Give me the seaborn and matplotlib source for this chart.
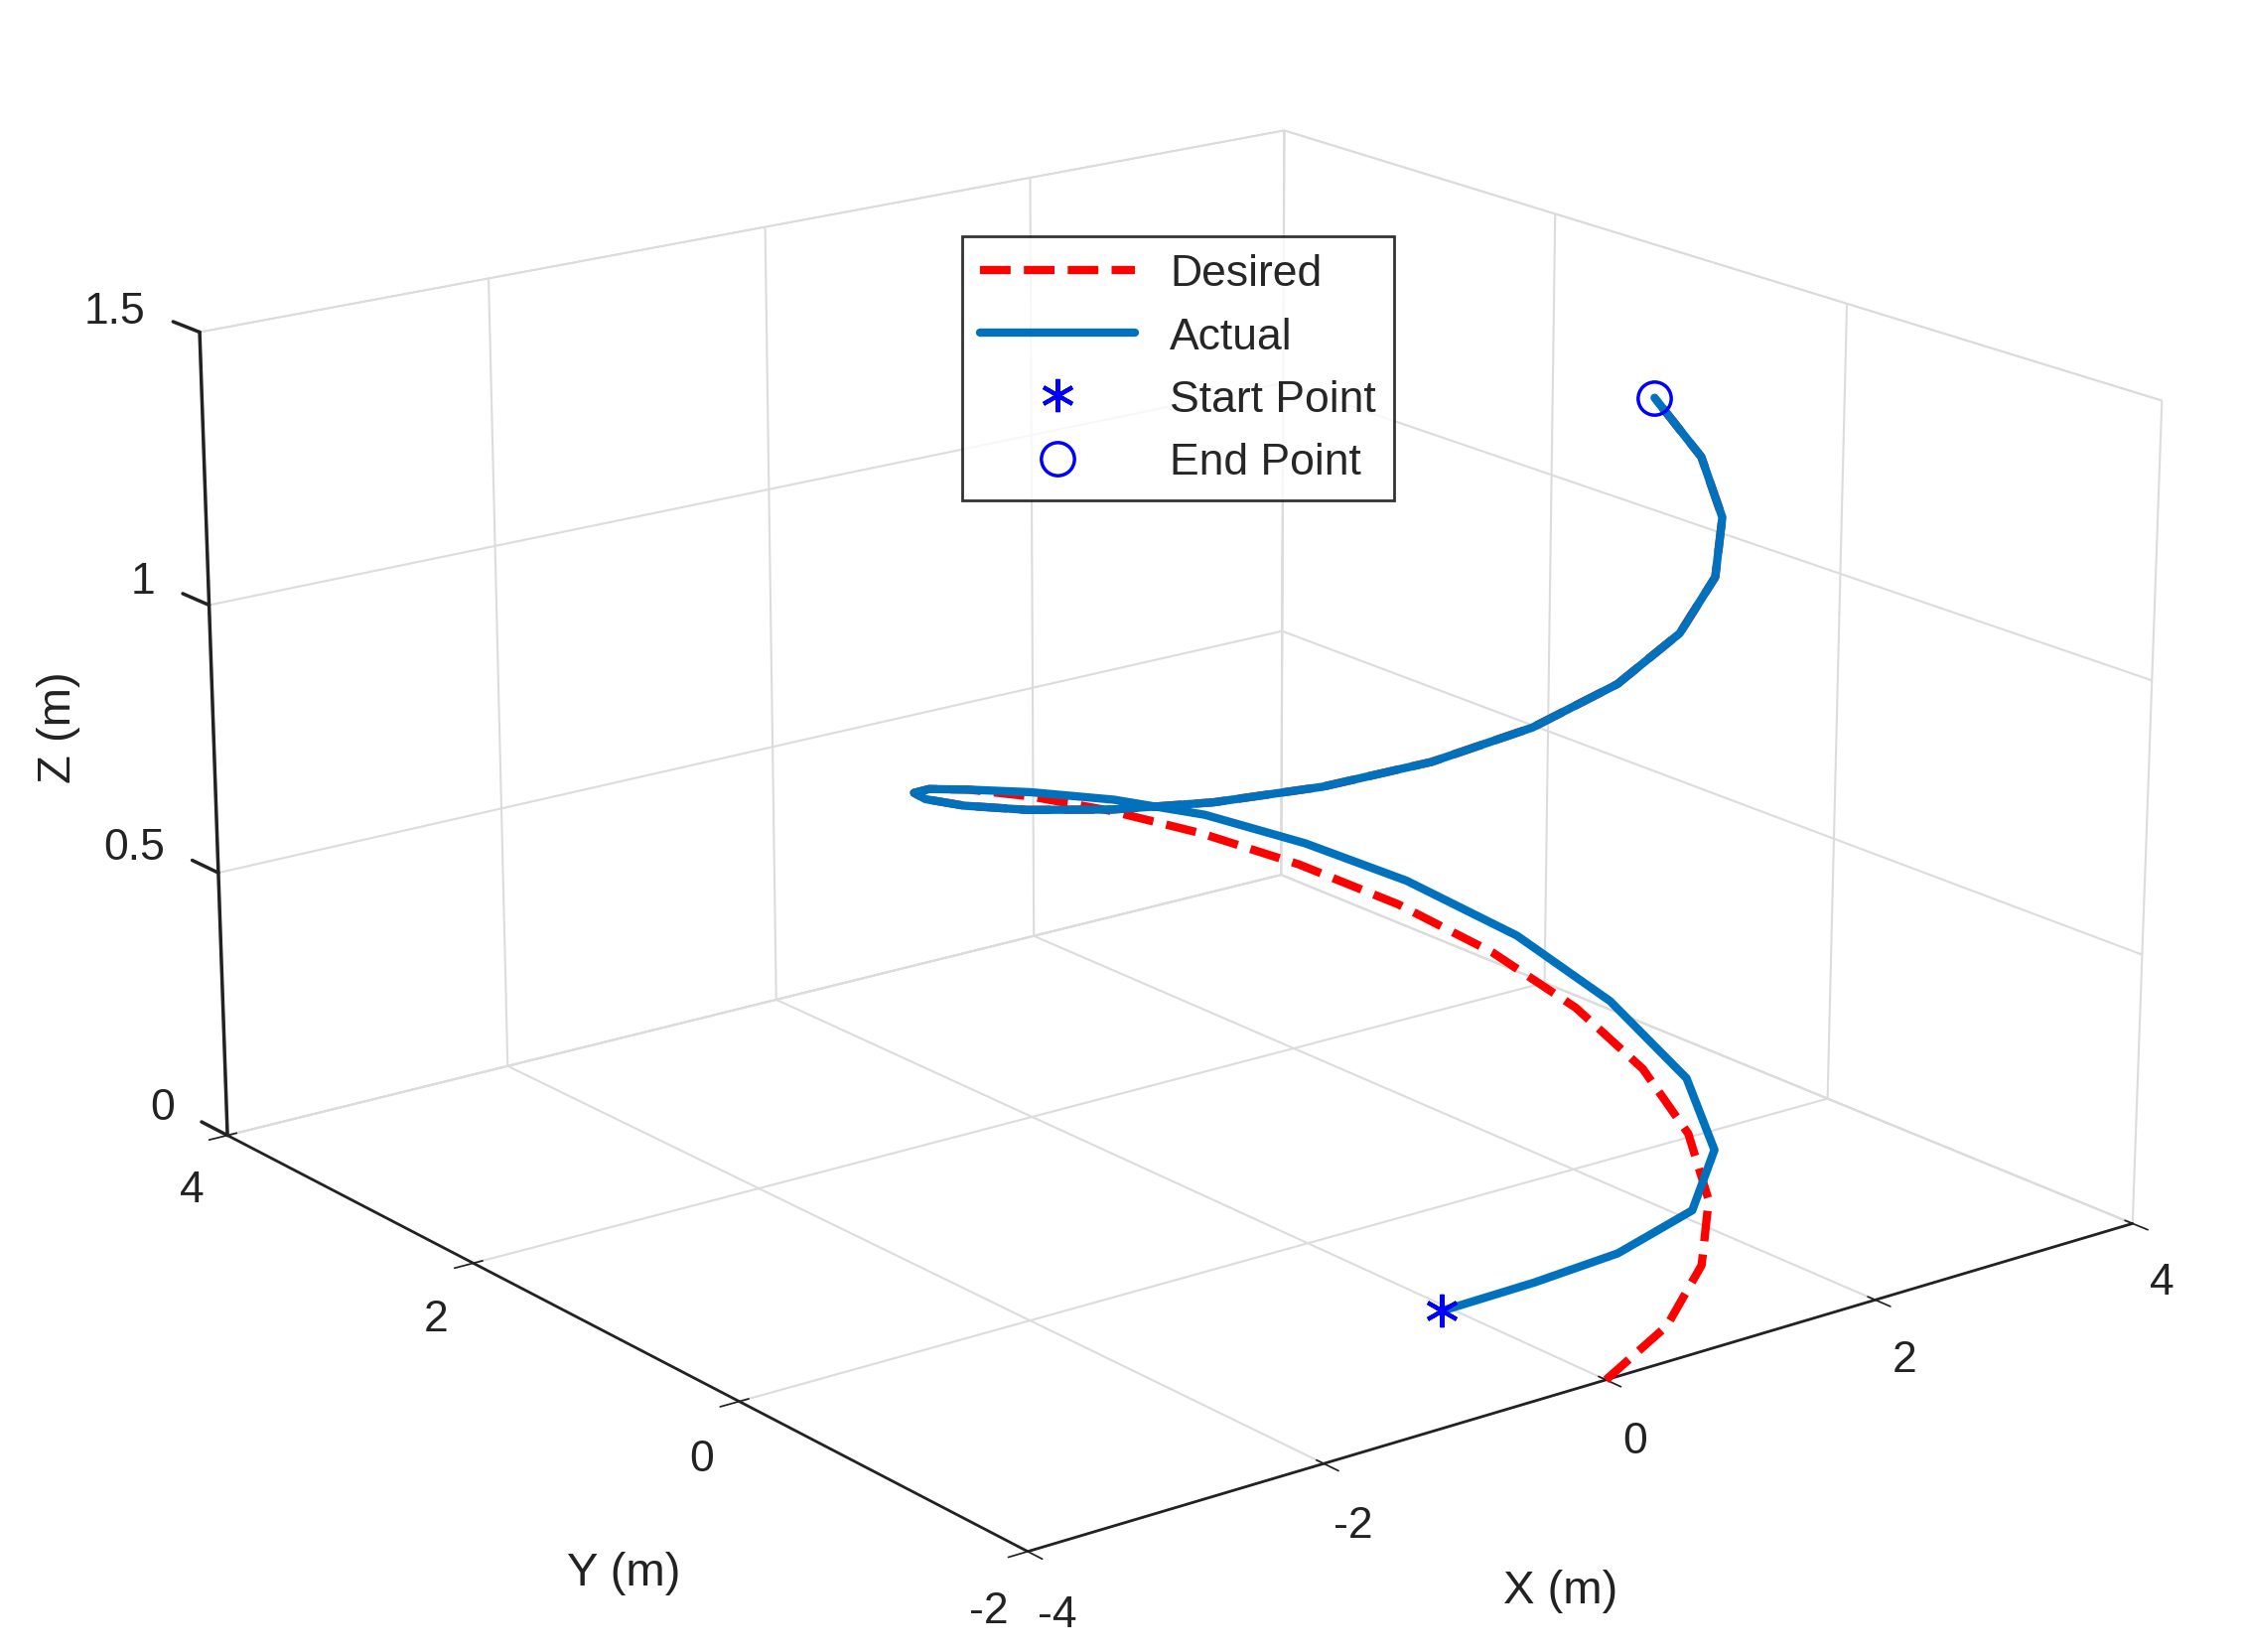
"""3D trajectory tracking: desired vs actual path."""

import matplotlib

matplotlib.use('Agg')

import matplotlib.pyplot as plt
import seaborn as sns
from mpl_toolkits.mplot3d import art3d

# desired helix, every 15 degrees
des_x = [0, .518, 1, 1.414, 1.732, 1.932, 2, 1.932, 1.732, 1.414, 1, .518, 0,
         -.518, -1, -1.414, -1.732, -1.932, -2, -1.932, -1.732, -1.414, -1, -.518,
         0, .518, 1, 1.414, 1.732, 1.932]
des_y = [-2, -1.932, -1.732, -1.414, -1, -.518, 0, .518, 1, 1.414, 1.732, 1.932, 2,
         1.932, 1.732, 1.414, 1, .518, 0, -.518, -1, -1.414, -1.732, -1.932,
         -2, -1.932, -1.732, -1.414, -1, -.518]
des_z = [0, .051, .102, .153, .204, .255, .306, .357, .408, .459, .51, .561, .612,
         .663, .714, .765, .816, .867, .918, .969, 1.02, 1.071, 1.122, 1.173,
         1.224, 1.275, 1.326, 1.377, 1.428, 1.479]

act_x = [-.33, .2, .7, 1.25, 1.7, 2.0, 2.15, 2.1, 1.85, 1.5, 1.05, .55, 0] + des_x[13:]
act_y = [-1.22, -1.35, -1.45, -1.45, -1.2, -.75, -.1, .5, 1.05, 1.45, 1.75, 1.93, 2] + des_y[13:]
act_z = [.05, .08, .11, .15, .2, .26, .32, .38, .44, .49, .54, .58, .62] + des_z[13:]

x_ticks = [-4, -2, 0, 2, 4]
y_ticks = [-2, 0, 2, 4]
z_ticks = [0, 0.5, 1, 1.5]
z_labels = ['0', '0.5', '1', '1.5']

X_LIM, Y_LIM, Z_LIM = (-4, 4), (-2, 4), (0, 1.5)


def main() -> None:
    sns.set_theme(style='white')
    plt.rcParams['font.family'] = ['Arial', 'Liberation Sans', 'DejaVu Sans']
    plt.rcParams['axes.unicode_minus'] = False
    fig = plt.figure(figsize=(22.61, 16.65), dpi=100)
    ax = fig.add_subplot(projection='3d')
    ax.set_position([0.01, 0.015, 1.0, 1.0])
    ax.computed_zorder = False

    ax.plot(des_x, des_y, des_z, color='red', ls='--', lw=6, label='Desired',
            zorder=3, solid_joinstyle='round')
    ax.plot(act_x, act_y, act_z, color='#0072BD', lw=6, label='Actual', zorder=4,
            solid_joinstyle='round')
    ax.plot([act_x[0]], [act_y[0]], [act_z[0]], ls='none', marker=(6, 2, 0), ms=24,
            mec='blue', mew=3, label='Start Point', zorder=5)
    ax.plot([act_x[-1]], [act_y[-1]], [act_z[-1]], ls='none', marker='o', ms=24,
            mfc='none', mec='blue', mew=2.5, label='End Point', zorder=5)

    ax.set_xlim(*X_LIM)
    ax.set_ylim(*Y_LIM)
    ax.set_zlim(*Z_LIM)
    ax.set_xticks(x_ticks)
    ax.set_yticks(y_ticks)
    ax.set_zticks(z_ticks)
    ax.set_zticklabels([])
    ax.view_init(elev=18, azim=-127.5)
    ax.set_box_aspect((1, 1, 0.62), zoom=1.25)

    for axis in (ax.xaxis, ax.yaxis, ax.zaxis):
        axis.set_pane_color((1, 1, 1, 1))
        axis.pane.set_edgecolor('#bbbbbb')
        axis._axinfo['grid']['color'] = '#dcdcdc'
        axis._axinfo['grid']['linewidth'] = 1.5
        axis.line.set_color('#222222')
        axis.line.set_linewidth(2)
    ax.zaxis.line.set_color('#cccccc')
    ax.zaxis._axinfo['tick']['inward_factor'] = 0
    ax.zaxis._axinfo['tick']['outward_factor'] = 0
    ax.grid(True)
    ax.tick_params(labelsize=32, colors='#222222', pad=12)

    # z axis drawn on the left edge, as in the original
    edge = art3d.Line3D([X_LIM[0], X_LIM[0]], [Y_LIM[1], Y_LIM[1]], list(Z_LIM),
                        color='#222222', lw=2.5, zorder=10, clip_on=False)
    ax.add_artist(edge)
    for z, lab in zip(z_ticks, z_labels):
        tick = art3d.Line3D([X_LIM[0], X_LIM[0]], [Y_LIM[1], Y_LIM[1] + 0.22], [z, z],
                            color='#222222', lw=2.5, zorder=10, clip_on=False)
        ax.add_artist(tick)
        ax.text(X_LIM[0], Y_LIM[1] + 0.45, z, lab, fontsize=32, color='#222222',
                ha='right', va='center', zorder=6)

    fig.text(0.026, 0.56, 'Z (m)', fontsize=34, rotation=90, ha='center', va='center',
             color='#222222')
    fig.text(0.278, 0.048, 'Y (m)', fontsize=34, ha='center', va='center', color='#222222')
    fig.text(0.695, 0.037, 'X (m)', fontsize=34, ha='center', va='center', color='#222222')

    leg = ax.legend(loc='upper center', bbox_to_anchor=(0.52, 0.855), fontsize=32,
                    frameon=True, fancybox=False, handlelength=3.5, borderpad=0.4)
    leg.get_frame().set_edgecolor('black')
    leg.get_frame().set_linewidth(2)

    fig.savefig('out.png', dpi=100)
    plt.close(fig)


if __name__ == '__main__':
    main()
